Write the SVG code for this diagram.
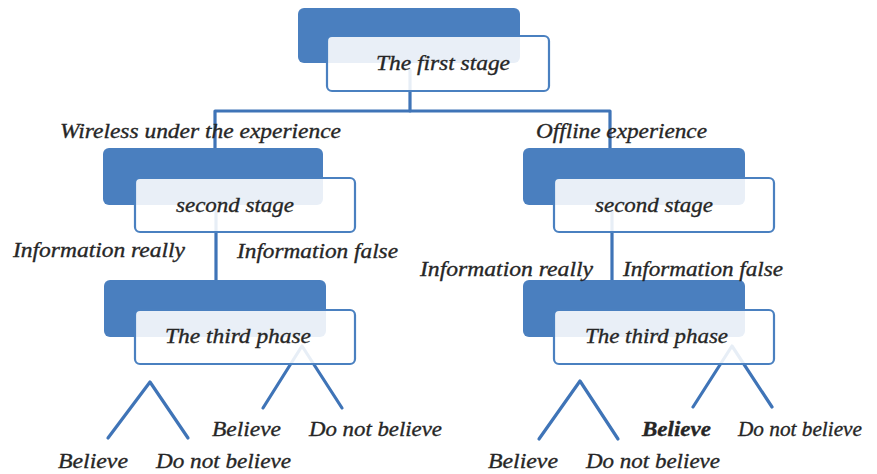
<svg xmlns="http://www.w3.org/2000/svg" width="877" height="474" viewBox="0 0 877 474">
<style>
.dark{fill:#4a7fbf;}
.box{fill:#ffffff;fill-opacity:0.88;stroke:#4a80c0;stroke-width:2.2;}
.ln{stroke:#3f74b7;stroke-width:3.2;fill:none;stroke-linecap:round;stroke-linejoin:round;}
text{font-family:"Liberation Serif","Times New Roman",serif;font-style:italic;font-size:22px;fill:#262626;stroke:#262626;stroke-width:0.35;}
</style>
<rect width="877" height="474" fill="#ffffff"/>
<g id="connectors">
<polyline class="ln" points="410,70 410,111"/>
<polyline class="ln" points="215,148 215,111 610,111 610,148"/>
<polyline class="ln" points="216,210 216,280"/>
<polyline class="ln" points="612,210 612,280"/>
<polyline class="ln" points="108,438 150,382 188,438"/>
<polyline class="ln" points="263,408 302,346 342,408"/>
<polyline class="ln" points="539,439 580,381 618,439"/>
<polyline class="ln" points="693,407 732,346 772,407"/>
</g>
<g id="node-first">
<rect class="dark" x="298" y="8" width="222" height="55" rx="6"/>
<rect class="box" x="327" y="36" width="222" height="55" rx="5"/>
<text x="376" y="70" textLength="134" lengthAdjust="spacingAndGlyphs">The first stage</text>
</g>
<g id="node-second-left">
<rect class="dark" x="103" y="148" width="220" height="57" rx="6"/>
<rect class="box" x="135" y="178" width="220" height="54" rx="5"/>
<text x="176" y="212" textLength="118" lengthAdjust="spacingAndGlyphs">second stage</text>
</g>
<g id="node-second-right">
<rect class="dark" x="523" y="148" width="222" height="57" rx="6"/>
<rect class="box" x="554" y="178" width="220" height="54" rx="5"/>
<text x="595" y="212" textLength="118" lengthAdjust="spacingAndGlyphs">second stage</text>
</g>
<g id="node-third-left">
<rect class="dark" x="104" y="280" width="222" height="57" rx="6"/>
<rect class="box" x="135" y="310" width="220" height="54" rx="5"/>
<text x="165" y="343" textLength="146" lengthAdjust="spacingAndGlyphs">The third phase</text>
</g>
<g id="node-third-right">
<rect class="dark" x="523" y="280" width="222" height="57" rx="6"/>
<rect class="box" x="554" y="310" width="220" height="54" rx="5"/>
<text x="585" y="343" textLength="143" lengthAdjust="spacingAndGlyphs">The third phase</text>
</g>
<g id="labels">
<text x="60" y="138" textLength="281" lengthAdjust="spacingAndGlyphs">Wireless under the experience</text>
<text x="536" y="138" textLength="171" lengthAdjust="spacingAndGlyphs">Offline experience</text>
<text x="13" y="257" textLength="172" lengthAdjust="spacingAndGlyphs">Information really</text>
<text x="237" y="258" textLength="161" lengthAdjust="spacingAndGlyphs">Information false</text>
<text x="420" y="276" textLength="173" lengthAdjust="spacingAndGlyphs">Information really</text>
<text x="623" y="276" textLength="160" lengthAdjust="spacingAndGlyphs">Information false</text>
<text x="212" y="436" textLength="69" lengthAdjust="spacingAndGlyphs">Believe</text>
<text x="309" y="436" textLength="133" lengthAdjust="spacingAndGlyphs">Do not believe</text>
<text x="58" y="468" textLength="70" lengthAdjust="spacingAndGlyphs">Believe</text>
<text x="156" y="468" textLength="135" lengthAdjust="spacingAndGlyphs">Do not believe</text>
<text x="488" y="468" textLength="70" lengthAdjust="spacingAndGlyphs">Believe</text>
<text x="586" y="468" textLength="134" lengthAdjust="spacingAndGlyphs">Do not believe</text>
<text x="642" y="436" font-weight="bold" textLength="69" lengthAdjust="spacingAndGlyphs">Believe</text>
<text x="738" y="436" textLength="124" lengthAdjust="spacingAndGlyphs">Do not believe</text>
</g>
</svg>
